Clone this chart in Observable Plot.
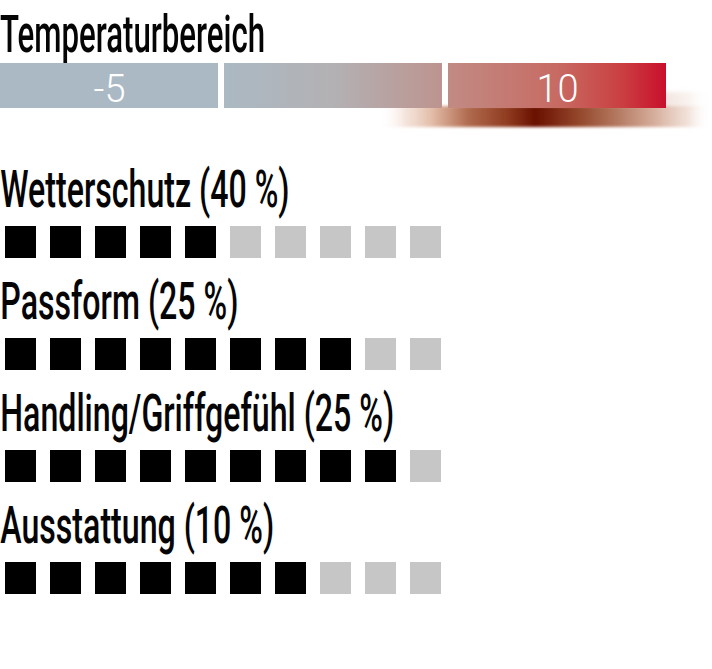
<!DOCTYPE html>
<html>
<head>
<meta charset="utf-8">
<script src="https://cdn.jsdelivr.net/npm/d3@7"></script>
<script src="https://cdn.jsdelivr.net/npm/@observablehq/plot@0.6"></script>
<style>
  html, body { margin: 0; padding: 0; background: #fff; }
  #wrap { position: relative; width: 712px; height: 669px; overflow: hidden; }
  #title {
    position: absolute; left: 0; top: 9px; margin: 0;
    font-family: Roboto, sans-serif; font-weight: 500; font-size: 51px; line-height: 51px;
    color: #050505; white-space: nowrap;
    transform: scaleX(0.612); transform-origin: 0 0;
  }
  #temp { position: absolute; left: 0; top: 55px; }
  #ratings { position: absolute; left: 0; top: 140px; }
</style>
</head>
<body>
<div id="wrap">
  <div id="title"></div>
  <div id="temp"></div>
  <div id="ratings"></div>
</div>
<script>
// ---------- data ----------
const title = "Temperaturbereich";
const tempSegments = [0, 1, 2];          // three temperature bands
const tempLabels = ["-5", "", "10"];     // label shown in each band
const warmSegment = 2;                   // band with the shaded marker underneath
const criteria = ["Wetterschutz", "Passform", "Handling/Griffgefühl", "Ausstattung"];
const weights = [40, 25, 25, 10];        // %
const scores = [5, 8, 9, 7];             // of 10
const maxScore = 10;

// ---------- styles ----------
const CONDENSE = 0.63;
const segFills = ["#aab9c4", "url(#seg2)", "url(#seg3)"];

document.getElementById("title").textContent = title;

// gradient definitions (function mark)
const defsMark = () => {
  const defs = d3.create("svg:defs");
  const addGrad = (id, stops) => {
    const g = defs.append("linearGradient").attr("id", id).attr("x1", 0).attr("x2", 1).attr("y1", 0).attr("y2", 0);
    for (const [o, c, a = 1] of stops) g.append("stop").attr("offset", o).attr("stop-color", c).attr("stop-opacity", a);
  };
  addGrad("seg2", [[0, "#abb9c3"], [0.5, "#b3b1b4"], [1, "#bd948f"]]);
  addGrad("seg3", [[0, "#c18b84"], [0.5, "#c76b63"], [0.8, "#ca3f41"], [1, "#c90f2c"]]);
  addGrad("shade", [
    [0, "#ffffff", 0], [0.08, "#f0d8cc", 0.7], [0.16, "#e2bca8", 1], [0.27, "#b06a4e", 1],
    [0.39, "#8e3a1e", 1], [0.47, "#6a1000", 1], [0.52, "#7a2410", 1], [0.6, "#93462a", 1],
    [0.72, "#b57a62", 1], [0.84, "#d9b3a2", 1], [0.93, "#eedad0", 0.8], [1, "#ffffff", 0]
  ]);
  addGrad("shadeR", [[0, "#e6cabd", 0.7], [0.6, "#f1e2da", 0.5], [1, "#ffffff", 0]]);
  return defs.node();
};

const tempPlot = Plot.plot({
  width: 712,
  height: 80,
  marginTop: 8,
  marginBottom: 27,
  marginLeft: 0,
  marginRight: 0,
  x: {type: "band", domain: tempSegments, range: [0, 667], paddingInner: 0.0267, paddingOuter: 0, axis: null},
  color: {type: "identity"},
  marks: [
    defsMark,
    Plot.cell([warmSegment], {x: d => d, fill: () => "url(#shadeR)",
      insetLeft: 200, insetRight: -45, insetTop: 29, insetBottom: 0, imageFilter: "blur(2px)"}),
    Plot.cell([warmSegment], {x: d => d, fill: () => "url(#shade)",
      insetLeft: -69, insetRight: -45, insetTop: 43, insetBottom: -19, imageFilter: "blur(1.5px)"}),
    Plot.cell(tempSegments, {x: d => d, fill: d => segFills[d]}),
    Plot.text(tempSegments, {x: d => d, text: d => tempLabels[d], fill: "white", fontSize: 38, fontWeight: 300,
      fontFamily: "Roboto, sans-serif", dy: 4})
  ]
});
document.getElementById("temp").append(tempPlot);

// ---------- ratings ----------
const labels = criteria.map((c, i) => `${c} (${weights[i]} %)`);
const cells = labels.flatMap((label, i) =>
  d3.range(1, maxScore + 1).map(k => ({label, k, on: k <= scores[i]}))
);

const ratingsPlot = Plot.plot({
  width: 712,
  height: 529,
  marginTop: 6,
  marginBottom: 75,
  marginLeft: 0,
  marginRight: 0,
  x: {type: "band", domain: d3.range(1, maxScore + 1), range: [2, 445], paddingInner: 0.3, paddingOuter: 0, axis: null},
  y: {type: "band", domain: labels, padding: 0, axis: null},
  color: {type: "identity"},
  marks: [
    Plot.cell(cells, {x: "k", y: "label", fill: d => d.on ? "#000000" : "#c6c6c6", insetTop: 80}),
    Plot.text(labels, {y: d => d, text: d => d, frameAnchor: "left", textAnchor: "start", lineAnchor: "bottom", dy: 4,
      fontSize: 51, fontWeight: 500, fontFamily: "Roboto, sans-serif", fill: "#050505"})
  ]
});
// condense the label typeface horizontally
ratingsPlot.querySelectorAll('g[aria-label="text"]').forEach(g => {
  const t = g.getAttribute("transform") || "";
  g.setAttribute("transform", `scale(${CONDENSE},1) ${t}`);
});
document.getElementById("ratings").append(ratingsPlot);
</script>
</body>
</html>
